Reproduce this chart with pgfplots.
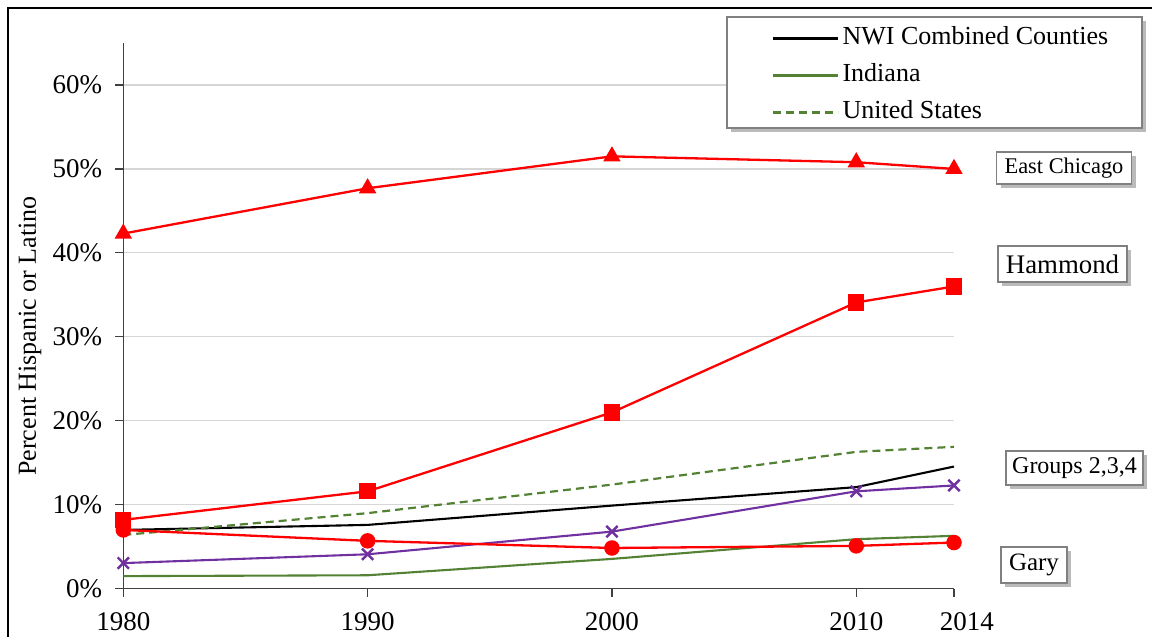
\documentclass[border=0pt]{standalone}
\usepackage{fontspec}
\setmainfont{Liberation Serif}
\usepackage{pgfplots}
\pgfplotsset{compat=1.18}
\usetikzlibrary{shadows}
\definecolor{ingreen}{RGB}{84,130,53}
\definecolor{grpurple}{RGB}{112,48,160}
\definecolor{boxgray}{RGB}{128,128,128}
\tikzset{lbl/.style={draw=boxgray, line width=0.9pt, fill=white, inner sep=0pt, align=center,
  drop shadow={shadow xshift=2.2pt, shadow yshift=-2.2pt, opacity=0.45, fill=black!60}}}
\begin{document}
\begin{tikzpicture}
\path[use as bounding box] (0,0) rectangle (576pt,-318.5pt);
\clip (0,0) rectangle (576pt,-318.5pt);
\begin{axis}[
  at={(61.65pt,-294.35pt)}, anchor=south west,
  scale only axis, width=415.35pt, height=272.85pt,
  xmin=1980, xmax=2014, ymin=0, ymax=65,
  axis lines=left, axis line style={-, black!75, line width=0.6pt},
  xtick={1980,1990,2000,2010,2014},
  xticklabels={1980,1990,2000,2010,\hspace*{13pt}2014},
  ytick={0,10,...,60},
  yticklabel={\pgfmathprintnumber{\tick}\%},
  /pgf/number format/assume math mode=true,
  tick align=outside, major tick length=4pt,
  tick style={black!75, line width=0.6pt},
  tick label style={font=\fontsize{13.5}{15}\selectfont},
  xticklabel style={yshift=-4.5pt},
  yticklabel style={xshift=-3pt},
  ymajorgrids, grid style={black!16, line width=0.6pt},
  clip=false,
  legend cell align=left,
  legend image code/.code={\draw[line width=1.1pt,#1] (0pt,0pt) -- (32.5pt,0pt);},
  legend style={draw=none, fill=none, at={(rel axis cs:0.7809,1.0311)}, anchor=north west,
    inner sep=0pt, row sep=6.5pt, font=\fontsize{13}{15}\selectfont,
    nodes={inner sep=0pt, inner xsep=1.5pt, text height=9pt, text depth=3pt}},
]
\node[lbl, minimum width=207.5pt, minimum height=55.5pt] at (rel axis cs:0.9765,0.9459) {};
\addlegendimage{draw=black, line width=1.1pt}
\addlegendentry{NWI Combined Counties}
\addlegendimage{draw=ingreen, line width=1.1pt}
\addlegendentry{Indiana}
\addlegendimage{draw=ingreen, line width=1.1pt, dash pattern=on 4pt off 2.5pt}
\addlegendentry{United States}
\addplot[black, line width=1.05pt, forget plot] coordinates {(1980,7.0)(1990,7.6)(2000,9.9)(2010,12.1)(2014,14.55)};
\addplot[ingreen, line width=1.05pt, forget plot] coordinates {(1980,1.5)(1990,1.6)(2000,3.55)(2010,5.9)(2014,6.3)};
\addplot[ingreen, line width=1.1pt, dash pattern=on 4pt off 2.5pt, forget plot] coordinates {(1980,6.4)(1990,9.0)(2000,12.4)(2010,16.3)(2014,16.9)};
\addplot[grpurple, line width=1.05pt, mark=x, mark size=4pt, mark options={line width=1.2pt}, forget plot] coordinates {(1980,3.05)(1990,4.1)(2000,6.8)(2010,11.6)(2014,12.3)};
\addplot[red, line width=1.15pt, mark=*, mark size=3.3pt, forget plot] coordinates {(1980,7.0)(1990,5.7)(2000,4.85)(2010,5.1)(2014,5.5)};
\addplot[red, line width=1.15pt, mark=square*, mark size=3.5pt, forget plot] coordinates {(1980,8.2)(1990,11.6)(2000,21.0)(2010,34.1)(2014,36.0)};
\addplot[red, line width=1.15pt, mark=triangle*, mark size=3.9pt, forget plot] coordinates {(1980,42.3)(1990,47.7)(2000,51.5)(2010,50.8)(2014,50.0)};
\end{axis}
\begin{scope}[x=0.5pt,y=-0.5pt]
\draw[line width=1pt] (8,8) rectangle (1170,660);
\node[rotate=90, font=\fontsize{13}{15}\selectfont] at (30,336) {Percent Hispanic or Latino};
\node[lbl, minimum width=67.5pt, minimum height=16pt, font=\fontsize{11.2}{13}\selectfont] at (1064,168) {East Chicago};
\node[lbl, minimum width=64.5pt, minimum height=18pt, font=\fontsize{13.4}{15}\selectfont] at (1062.5,264) {Hammond};
\node[lbl, minimum width=68.5pt, minimum height=17pt, font=\fontsize{12}{14}\selectfont] at (1074.5,468) {Groups 2,3,4};
\node[lbl, minimum width=33pt, minimum height=18pt, font=\fontsize{12.5}{14}\selectfont] at (1034,565) {Gary};
\end{scope}
\end{tikzpicture}
\end{document}
